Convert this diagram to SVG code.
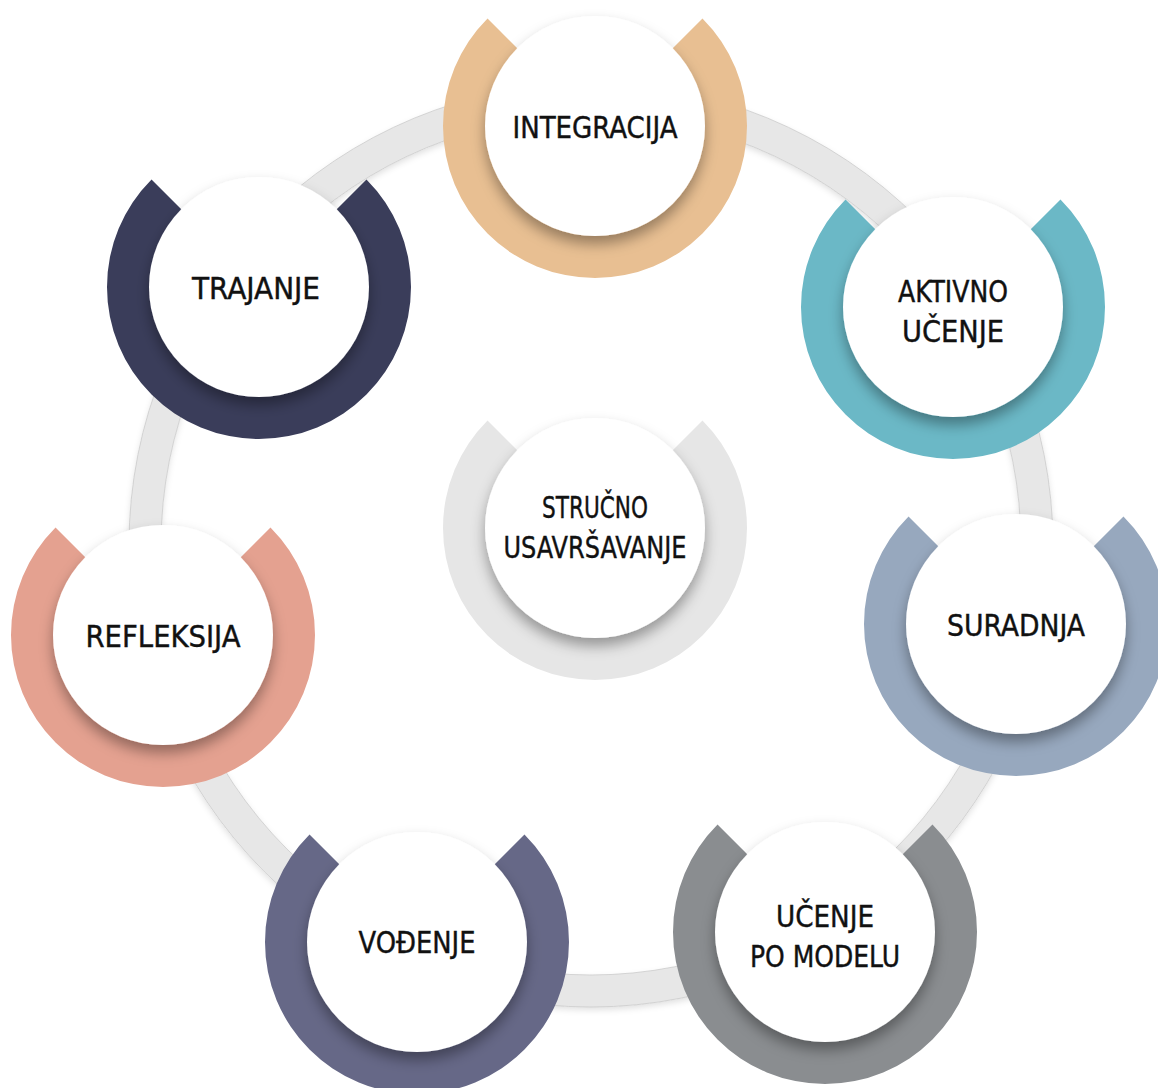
<svg xmlns="http://www.w3.org/2000/svg" width="1158" height="1088" viewBox="0 0 1158 1088">
<defs>
<filter id="sh" x="-30%" y="-30%" width="160%" height="170%">
<feDropShadow dx="0" dy="8" stdDeviation="7" flood-color="#000" flood-opacity="0.35"/>
</filter>
<filter id="rs" x="-10%" y="-10%" width="120%" height="120%">
<feDropShadow dx="0" dy="3" stdDeviation="3" flood-color="#000" flood-opacity="0.12"/>
</filter>
<path id="sector" d="M0 0 L107.48 -107.48 A152 152 0 1 1 -107.48 -107.48 Z"/>
</defs>
<style>
.disc{fill:#ffffff;filter:url(#sh)}
.lbl{font-family:"DejaVu Sans Condensed","Liberation Sans Narrow","Roboto Condensed",Roboto,"Liberation Sans",sans-serif;font-size:31px;fill:#111111;stroke:#111111;stroke-width:0.4;text-anchor:middle}
</style>
<rect width="1158" height="1088" fill="#ffffff"/>
<g id="connectors">
<circle cx="591" cy="545" r="446" fill="none" stroke="#e7e7e7" stroke-width="32" filter="url(#rs)"/>
<circle cx="591" cy="545" r="462" fill="none" stroke="#cccccc" stroke-width="0.8"/>
<circle cx="591" cy="545" r="430" fill="none" stroke="#cccccc" stroke-width="0.8"/>
</g>
<g id="integracija" transform="translate(595,126)">
<use href="#sector" fill="#e8bf92"/>
<circle class="disc" r="110"/>
<text class="lbl" x="0" y="12" textLength="165" lengthAdjust="spacingAndGlyphs">INTEGRACIJA</text>
</g>
<g id="trajanje" transform="translate(259,287)">
<use href="#sector" fill="#3a3d5a"/>
<circle class="disc" r="110"/>
<text class="lbl" x="-3" y="12" textLength="128" lengthAdjust="spacingAndGlyphs">TRAJANJE</text>
</g>
<g id="aktivno" transform="translate(953,307)">
<use href="#sector" fill="#6bb8c6"/>
<circle class="disc" r="110"/>
<text class="lbl" x="0" y="-5" textLength="110" lengthAdjust="spacingAndGlyphs">AKTIVNO</text>
<text class="lbl" x="0" y="35" textLength="102" lengthAdjust="spacingAndGlyphs">UČENJE</text>
</g>
<g id="strucno" transform="translate(595,528)">
<use href="#sector" fill="#e6e6e6"/>
<circle class="disc" r="110"/>
<text class="lbl" x="0" y="-10" textLength="106" lengthAdjust="spacingAndGlyphs">STRUČNO</text>
<text class="lbl" x="0" y="30" textLength="183" lengthAdjust="spacingAndGlyphs">USAVRŠAVANJE</text>
</g>
<g id="refleksija" transform="translate(163,635)">
<use href="#sector" fill="#e4a190"/>
<circle class="disc" r="110"/>
<text class="lbl" x="0" y="12" textLength="155" lengthAdjust="spacingAndGlyphs">REFLEKSIJA</text>
</g>
<g id="suradnja" transform="translate(1016,624)">
<use href="#sector" fill="#97a8be"/>
<circle class="disc" r="110"/>
<text class="lbl" x="0" y="12" textLength="138" lengthAdjust="spacingAndGlyphs">SURADNJA</text>
</g>
<g id="vodenje" transform="translate(417,942)">
<use href="#sector" fill="#666887"/>
<circle class="disc" r="110"/>
<text class="lbl" x="0" y="11" textLength="117" lengthAdjust="spacingAndGlyphs">VOĐENJE</text>
</g>
<g id="ucenje-po-modelu" transform="translate(825,932)">
<use href="#sector" fill="#8a8d90"/>
<circle class="disc" r="110"/>
<text class="lbl" x="0" y="-5" textLength="98" lengthAdjust="spacingAndGlyphs">UČENJE</text>
<text class="lbl" x="0" y="35" textLength="150" lengthAdjust="spacingAndGlyphs">PO MODELU</text>
</g>
</svg>
